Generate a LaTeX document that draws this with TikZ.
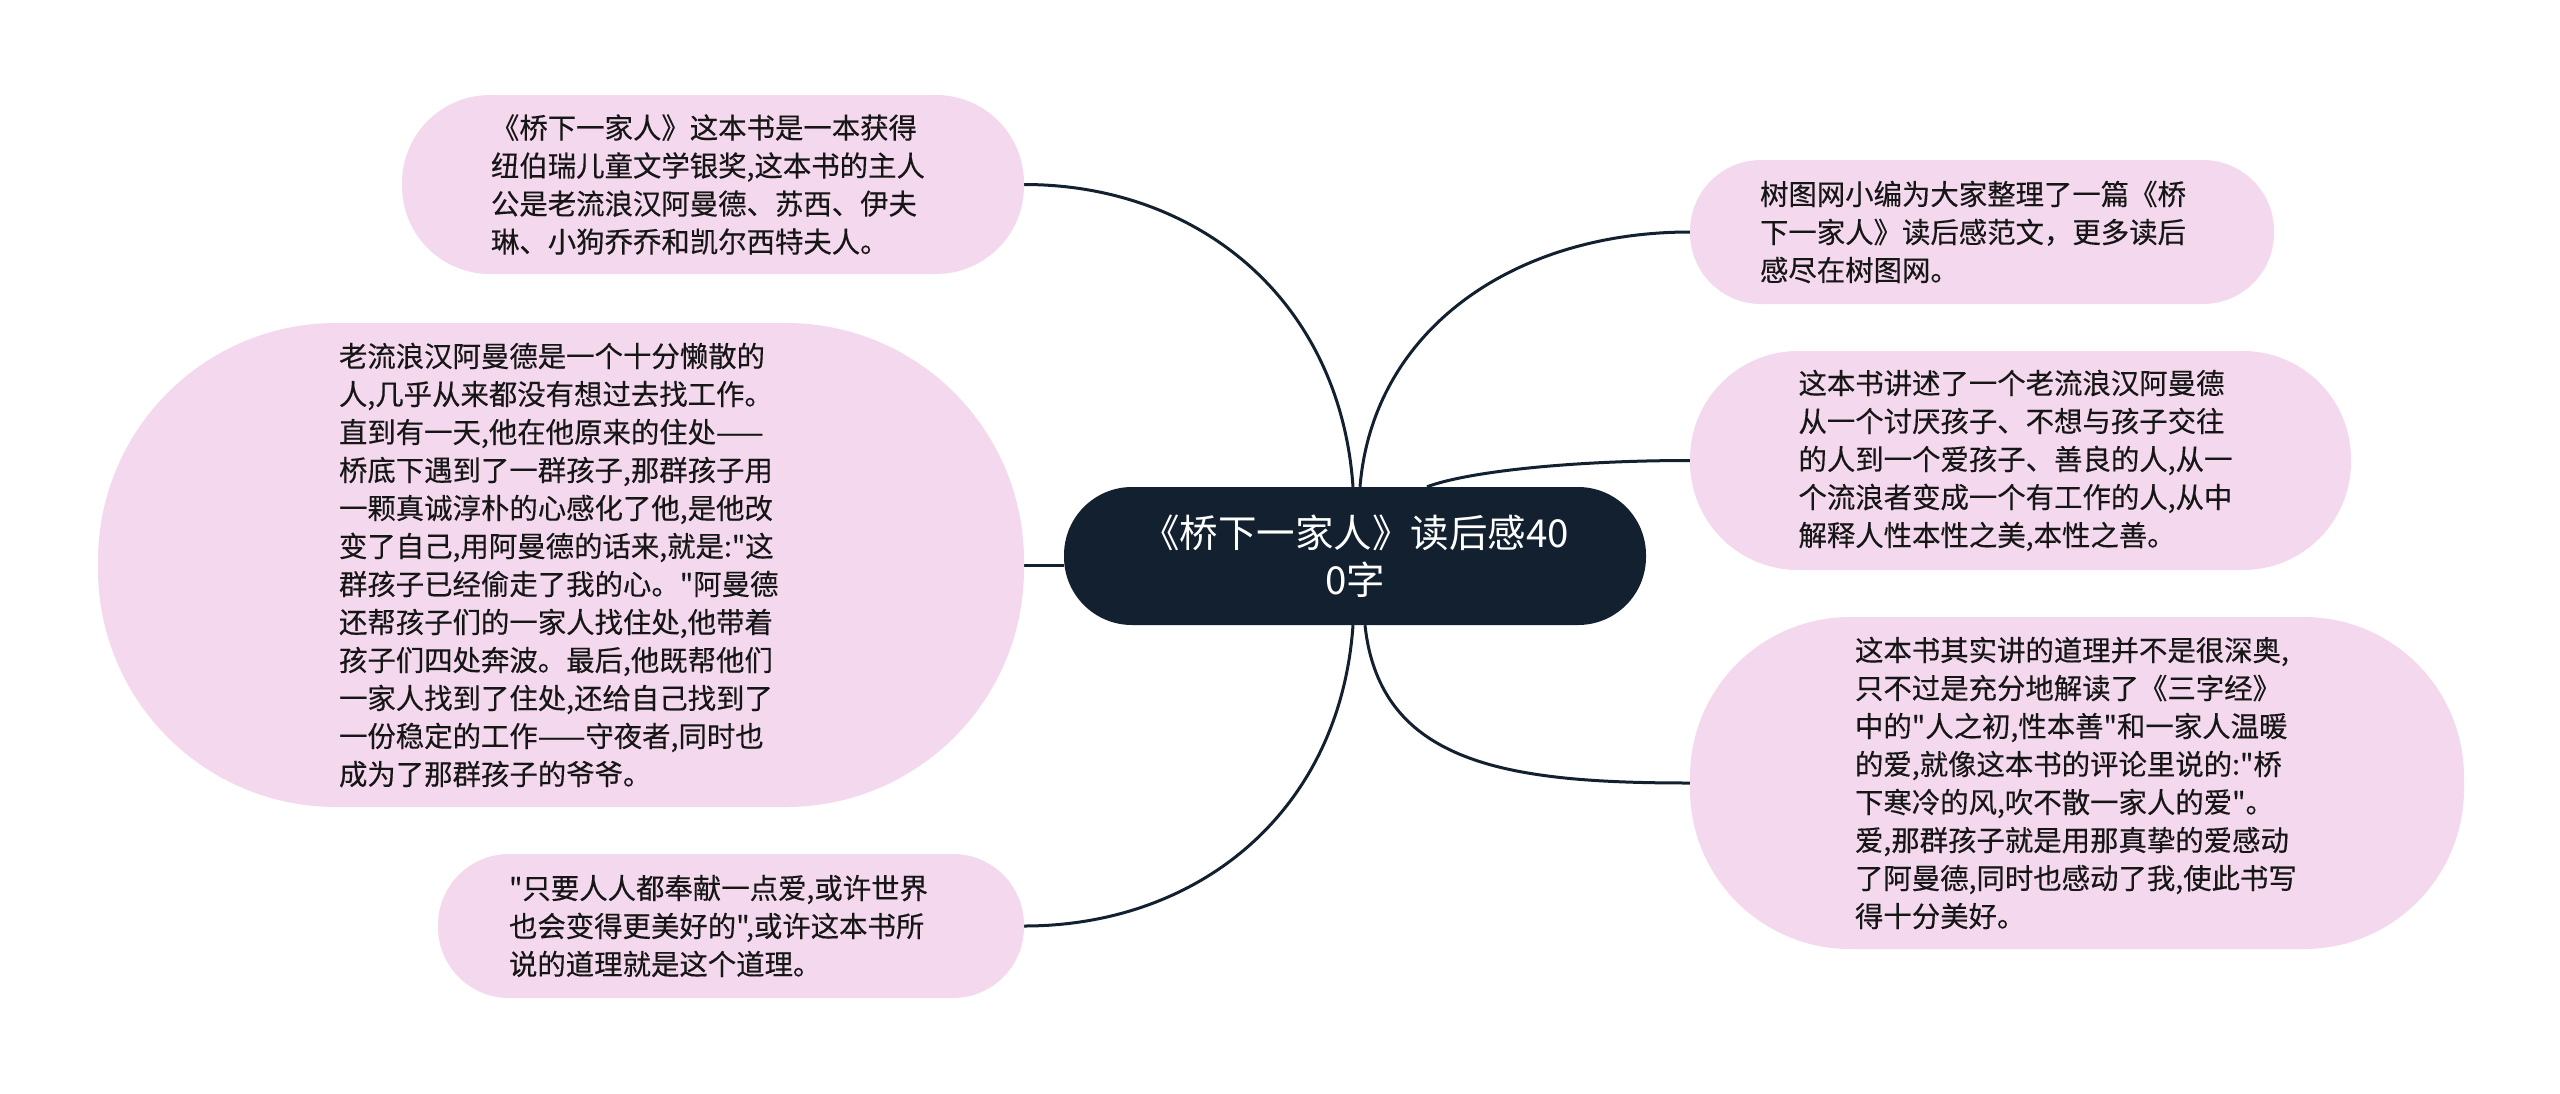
\documentclass[tikz,border=0pt]{standalone}
\usepackage{fontspec}
\newfontfamily\cjkfont[FakeBold=0.35]{Noto Sans CJK SC}
\newfontfamily\cjkcentral{Noto Sans CJK SC}
\definecolor{navy}{HTML}{13202F}
\definecolor{pinkfill}{HTML}{F4D9EE}
\definecolor{txt}{HTML}{161616}
\pgfdeclarelayer{back}
\pgfdeclarelayer{bg}
\pgfsetlayers{back,bg,main}
\begin{document}
\begin{tikzpicture}[x=1pt,y=-1pt,
  topic/.style={fill=pinkfill, text=txt, align=left, text width=444pt, inner sep=0pt,
    font=\cjkfont\fontsize{28.4}{38}\selectfont},
  central/.style={fill=navy, text=white, align=center, inner sep=0pt,
    font=\cjkcentral\fontsize{38.5}{47}\selectfont},
  conn/.style={draw=navy, line width=3pt}]
\begin{pgfonlayer}{back}
\fill[white] (0,0) rectangle (2560,1093);
\end{pgfonlayer}
\useasboundingbox (0,0) rectangle (2560,1093);

\node[central, minimum width=582pt, minimum height=138pt, rounded corners=68pt] (c) at (1355,556)
  {《桥下一家人》读后感40\\0字};

\node[topic, minimum width=622pt, minimum height=179pt, rounded corners=88pt] (n1) at (713,184.5)
  {《桥下一家人》这本书是一本获得\\纽伯瑞儿童文学银奖,这本书的主人\\公是老流浪汉阿曼德、苏西、伊夫\\琳、小狗乔乔和凯尔西特夫人。};

\node[topic, minimum width=926pt, minimum height=484pt, rounded corners=238pt] (n2) at (561,565)
  {老流浪汉阿曼德是一个十分懒散的\\人,几乎从来都没有想过去找工作。\\直到有一天,他在他原来的住处——\\桥底下遇到了一群孩子,那群孩子用\\一颗真诚淳朴的心感化了他,是他改\\变了自己,用阿曼德的话来,就是:"这\\群孩子已经偷走了我的心。"阿曼德\\还帮孩子们的一家人找住处,他带着\\孩子们四处奔波。最后,他既帮他们\\一家人找到了住处,还给自己找到了\\一份稳定的工作——守夜者,同时也\\成为了那群孩子的爷爷。};

\node[topic, minimum width=586pt, minimum height=144pt, rounded corners=71pt] (n3) at (731,926)
  {"只要人人都奉献一点爱,或许世界\\也会变得更美好的",或许这本书所\\说的道理就是这个道理。};

\node[topic, minimum width=584pt, minimum height=144pt, rounded corners=71pt] (n4) at (1982,232)
  {树图网小编为大家整理了一篇《桥\\下一家人》读后感范文，更多读后\\感尽在树图网。};

\node[topic, minimum width=661pt, minimum height=219pt, rounded corners=108pt] (n5) at (2020.5,460.5)
  {这本书讲述了一个老流浪汉阿曼德\\从一个讨厌孩子、不想与孩子交往\\的人到一个爱孩子、善良的人,从一\\个流浪者变成一个有工作的人,从中\\解释人性本性之美,本性之善。};

\node[topic, minimum width=774pt, minimum height=332pt, rounded corners=160pt] (n6) at (2077,783)
  {这本书其实讲的道理并不是很深奥,\\只不过是充分地解读了《三字经》\\中的"人之初,性本善"和一家人温暖\\的爱,就像这本书的评论里说的:"桥\\下寒冷的风,吹不散一家人的爱"。\\爱,那群孩子就是用那真挚的爱感动\\了阿曼德,同时也感动了我,使此书写\\得十分美好。};

\begin{pgfonlayer}{bg}
\draw[conn] ([xshift=-2pt]c.north) .. controls +(-13,-187) and +(174,0) .. (n1.east);
\draw[conn] (n2.east) -- (n2.east -| c.west);
\draw[conn] ([xshift=-2pt]c.south) .. controls +(-13,187) and +(174,0) .. (n3.east);
\draw[conn] ([xshift=5pt]c.north) .. controls +(13,-158) and +(-175,0) .. (n4.west);
\draw[conn] ([xshift=72pt]c.north) .. controls +(40,-15) and +(-120,0) .. (n5.west);
\draw[conn] ([xshift=10pt]c.south) .. controls +(15,140) and +(-180,0) .. (n6.west);
\end{pgfonlayer}
\end{tikzpicture}
\end{document}
